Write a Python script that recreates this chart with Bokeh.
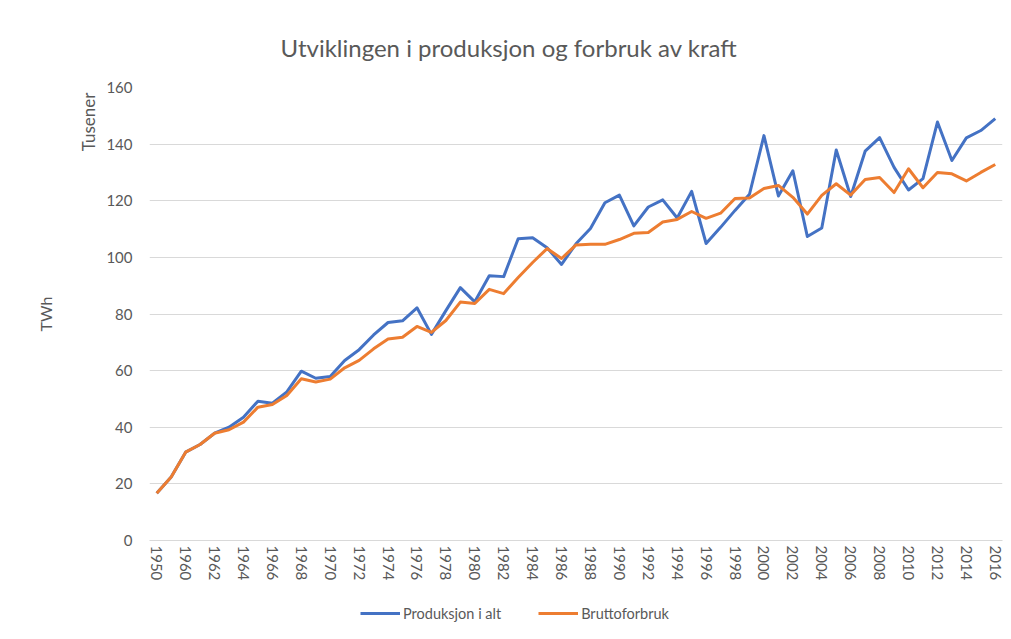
from bokeh.plotting import figure
from bokeh.layouts import column
from bokeh.models import Range1d, Legend, LegendItem, Title, FixedTicker, SingleIntervalTicker
from bokeh.embed import file_html
from bokeh.resources import INLINE

years = ["1950", "1955"] + [str(y) for y in range(1960, 2017)]

produksjon = [16.7, 22.4, 31.2, 33.9, 37.9, 40.0, 43.5, 49.2, 48.5, 52.5,
              59.8, 57.3, 57.9, 63.6, 67.4, 72.6, 77.0, 77.6, 82.2, 72.8,
              81.2, 89.3, 84.3, 93.5, 93.2, 106.6, 106.9, 103.4, 97.5, 104.8,
              110.2, 119.3, 122.0, 111.1, 117.8, 120.3, 113.9, 123.3, 104.9, 110.6,
              116.6, 122.3, 143.0, 121.7, 130.6, 107.4, 110.4, 137.9, 121.5, 137.5,
              142.3, 131.8, 123.8, 127.8, 147.8, 134.2, 142.2, 144.8, 149.0]

bruttoforbruk = [16.7, 22.4, 31.2, 33.9, 37.9, 39.1, 41.8, 47.1, 48.0, 51.2,
                 57.1, 56.0, 57.0, 61.0, 63.6, 67.7, 71.2, 71.8, 75.6, 73.5,
                 77.7, 84.2, 83.7, 88.7, 87.2, 92.9, 98.2, 103.1, 99.6, 104.4,
                 104.6, 104.6, 106.3, 108.5, 108.8, 112.5, 113.4, 116.2, 113.8, 115.6,
                 120.8, 121.0, 124.3, 125.4, 121.2, 115.3, 121.9, 126.0, 122.0, 127.5,
                 128.2, 122.9, 131.3, 124.6, 130.0, 129.5, 127.0, 130.0, 132.8]

title_text = "Utviklingen i produksjon og forbruk av kraft"
series_names = ["Produksjon i alt", "Bruttoforbruk"]
colors = ["#4472C4", "#ED7D31"]

FONT = "Lato"
GREY = "#595959"

idx = list(range(len(years)))

p = figure(width=1008, height=593, x_range=Range1d(-0.5, len(years) - 0.5),
           y_range=Range1d(0, 160), output_backend="svg", toolbar_location=None,
           min_border_left=149, min_border_right=6, min_border_top=87, min_border_bottom=53)
p.outline_line_color = None
p.background_fill_color = "white"
p.border_fill_color = "white"

l1 = p.line(idx, produksjon, line_color=colors[0], line_width=3, line_join="round")
l2 = p.line(idx, bruttoforbruk, line_color=colors[1], line_width=3, line_join="round")

# grid
p.xgrid.grid_line_color = None
p.ygrid.grid_line_color = "#D9D9D9"
p.ygrid.grid_line_width = 1
p.yaxis.ticker = SingleIntervalTicker(interval=20)

# y axis
p.yaxis.axis_line_color = None
p.yaxis.major_tick_line_color = None
p.yaxis.minor_tick_line_color = None
p.yaxis.major_tick_out = 0
p.yaxis.major_tick_in = 0
p.yaxis.major_label_standoff = 13
p.yaxis.major_label_text_font = FONT
p.yaxis.major_label_text_font_size = "15px"
p.yaxis.major_label_text_color = GREY

# x axis
p.xaxis.ticker = FixedTicker(ticks=idx[::2])
p.xaxis.major_label_overrides = {i: years[i] for i in idx}
p.xaxis.axis_line_color = "#D9D9D9"
p.xaxis.major_tick_line_color = None
p.xaxis.minor_tick_line_color = None
p.xaxis.major_tick_out = 0
p.xaxis.major_tick_in = 0
p.xaxis.major_label_standoff = 5
p.xaxis.major_label_orientation = "vertical"
p.xaxis.major_label_text_font = FONT
p.xaxis.major_label_text_font_size = "15px"
p.xaxis.major_label_text_color = GREY

# main title
p.add_layout(Title(text=title_text, align="left", offset=131, standoff=52,
                   text_font=FONT, text_font_size="24px", text_font_style="normal",
                   text_color=GREY), "above")

# display-unit label and axis label on the left
p.add_layout(Title(text="Tusener", align="right", offset=5, standoff=10,
                   text_font=FONT, text_font_size="17px", text_font_style="normal",
                   text_color=GREY), "left")
p.add_layout(Title(text="TWh", align="center", standoff=31,
                   text_font=FONT, text_font_size="16px", text_font_style="normal",
                   text_color=GREY), "left")

# legend strip below the chart (its frame is aligned with the main frame)
lg = figure(width=1008, height=40, x_range=Range1d(0, 1), y_range=Range1d(0, 1),
            output_backend="svg", toolbar_location=None,
            min_border_left=149, min_border_right=6, min_border_top=0, min_border_bottom=0)
lg.axis.visible = False
lg.grid.visible = False
lg.outline_line_color = None
lg.border_fill_color = "white"
# legend proxies: same series, but entirely outside this strip's visible range
g1 = lg.line(idx, produksjon, line_color=colors[0], line_width=3)
g2 = lg.line(idx, bruttoforbruk, line_color=colors[1], line_width=3)
legend = Legend(items=[LegendItem(label=series_names[0], renderers=[g1]),
                       LegendItem(label=series_names[1], renderers=[g2])],
                location=(211, 10), orientation="horizontal",
                glyph_width=40, glyph_height=20, label_standoff=3, spacing=37,
                padding=0, margin=0, border_line_color=None, background_fill_alpha=0,
                label_text_font=FONT, label_text_font_size="14.5px", label_text_color=GREY)
lg.add_layout(legend, "center")

layout = column(p, lg, spacing=0)
open("out.html", "w").write(file_html(layout, INLINE))
